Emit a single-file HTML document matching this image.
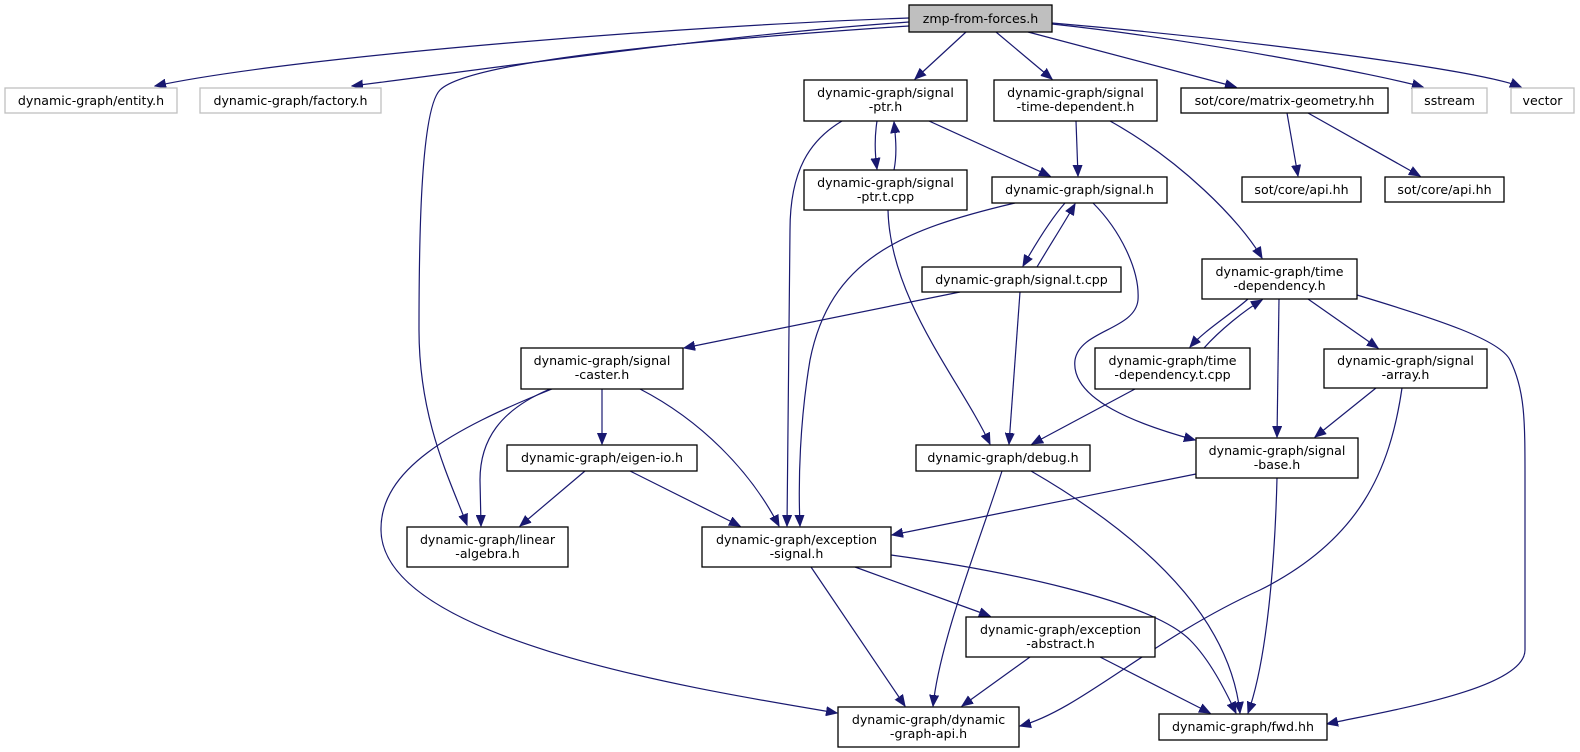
<!DOCTYPE html>
<html><head><meta charset="utf-8"><style>
html,body{margin:0;padding:0;background:#fff;}
svg{display:block;}
text{font-family:"DejaVu Sans","Liberation Sans",sans-serif;font-size:12.6px;fill:#000;text-anchor:middle;}
.e{fill:none;stroke:#191970;stroke-width:1.2;marker-end:url(#a);}
.n{fill:#fff;stroke:#000;stroke-width:1.3;}
.g{fill:#fff;stroke:#bfbfbf;stroke-width:1.3;}
</style></head><body>
<svg width="1580" height="752" viewBox="0 0 1580 752" xmlns="http://www.w3.org/2000/svg">
<defs><marker id="a" markerUnits="userSpaceOnUse" markerWidth="12" markerHeight="10" refX="11" refY="5" orient="auto"><path d="M0,0.5 L11,5 L0,9.5 z" fill="#191970" stroke="#191970"/></marker></defs>

<path class="e" d="M909,18 C700,25 300,55 155,86"/>
<path class="e" d="M909,22 C720,35 480,70 352,86"/>
<path class="e" d="M909,26 C700,40 470,60 440,90 C420,110 419,250 419,330 C419,420 450,480 467,525"/>
<path class="e" d="M966,32 L915,79"/>
<path class="e" d="M996,32 L1052,79"/>
<path class="e" d="M1028,32 L1236,87"/>
<path class="e" d="M1052,24 C1200,40 1380,75 1423,87"/>
<path class="e" d="M1052,23 C1250,40 1480,70 1521,87"/>
<path class="e" d="M877,121 C874,140 875,155 877,169"/>
<path class="e" d="M894,170 C897,155 896,140 894,122"/>
<path class="e" d="M929,121 L1050,176"/>
<path class="e" d="M842,121 C810,140 790,170 790,230 L787,526"/>
<path class="e" d="M888,210 C890,300 960,380 990,444"/>
<path class="e" d="M1076,121 L1078,176"/>
<path class="e" d="M1110,121 C1180,160 1240,220 1262,258"/>
<path class="e" d="M1287,113 L1298,176"/>
<path class="e" d="M1308,113 L1420,176"/>
<path class="e" d="M1065,203 C1050,220 1035,245 1023,266"/>
<path class="e" d="M1037,267 C1050,245 1063,225 1075,204"/>
<path class="e" d="M1015,203 C900,230 830,260 810,360 C800,420 798,480 800,526"/>
<path class="e" d="M1093,203 C1120,230 1140,270 1138,300 C1135,330 1080,330 1075,360 C1070,400 1140,425 1195,440"/>
<path class="e" d="M960,292 L684,348"/>
<path class="e" d="M1020,292 L1009,444"/>
<path class="e" d="M1248,299 C1230,315 1205,330 1190,347"/>
<path class="e" d="M1204,348 C1220,330 1245,310 1262,300"/>
<path class="e" d="M1279,299 L1277,437"/>
<path class="e" d="M1308,299 L1378,348"/>
<path class="e" d="M1357,295 C1440,320 1500,340 1510,360 C1525,390 1525,420 1525,480 L1525,650 C1525,690 1380,712 1327,724"/>
<path class="e" d="M1135,389 L1032,444"/>
<path class="e" d="M602,389 L602,444"/>
<path class="e" d="M550,389 C500,410 480,440 480,480 L481,526"/>
<path class="e" d="M640,389 C700,420 750,470 779,526"/>
<path class="e" d="M552,389 C450,430 380,470 381,530 C382,640 700,690 837,713"/>
<path class="e" d="M1376,388 L1315,437"/>
<path class="e" d="M1402,388 C1390,470 1360,540 1260,590 C1150,640 1080,710 1020,726"/>
<path class="e" d="M585,471 L520,526"/>
<path class="e" d="M630,471 L740,526"/>
<path class="e" d="M1002,471 C980,540 940,640 933,706"/>
<path class="e" d="M1031,471 C1150,540 1230,620 1240,713"/>
<path class="e" d="M1196,474 L892,535"/>
<path class="e" d="M1277,478 C1275,560 1267,660 1248,713"/>
<path class="e" d="M811,567 L905,706"/>
<path class="e" d="M855,567 L990,616"/>
<path class="e" d="M891,555 C1000,570 1150,600 1190,640 C1210,660 1225,690 1236,713"/>
<path class="e" d="M1030,657 L962,706"/>
<path class="e" d="M1100,657 L1210,713"/>

<rect x="909" y="5" width="143" height="27" fill="#bfbfbf" stroke="#000" stroke-width="1.3"/><text x="980.5" y="23">zmp-from-forces.h</text>
<rect class="g" x="5" y="88" width="172" height="25"/><text x="91" y="105">dynamic-graph/entity.h</text>
<rect class="g" x="200" y="88" width="181" height="25"/><text x="290.5" y="105">dynamic-graph/factory.h</text>
<rect class="g" x="1412" y="88" width="75" height="25"/><text x="1449.5" y="105">sstream</text>
<rect class="g" x="1511" y="88" width="63" height="25"/><text x="1542.5" y="105">vector</text>

<rect class="n" x="804" y="80" width="163" height="41"/><text x="885.5" y="97">dynamic-graph/signal</text><text x="885.5" y="111">-ptr.h</text>
<rect class="n" x="994" y="80" width="163" height="41"/><text x="1075.5" y="97">dynamic-graph/signal</text><text x="1075.5" y="111">-time-dependent.h</text>
<rect class="n" x="1181" y="88" width="207" height="25"/><text x="1284.5" y="105">sot/core/matrix-geometry.hh</text>

<rect class="n" x="804" y="170" width="163" height="40"/><text x="885.5" y="187">dynamic-graph/signal</text><text x="885.5" y="201">-ptr.t.cpp</text>
<rect class="n" x="992" y="177" width="175" height="26"/><text x="1079.5" y="194">dynamic-graph/signal.h</text>
<rect class="n" x="1242" y="177" width="119" height="25"/><text x="1301.5" y="194">sot/core/api.hh</text>
<rect class="n" x="1385" y="177" width="119" height="25"/><text x="1444.5" y="194">sot/core/api.hh</text>

<rect class="n" x="1202" y="259" width="155" height="40"/><text x="1279.5" y="276">dynamic-graph/time</text><text x="1279.5" y="290">-dependency.h</text>
<rect class="n" x="922" y="267" width="199" height="25"/><text x="1021.5" y="284">dynamic-graph/signal.t.cpp</text>

<rect class="n" x="521" y="348" width="162" height="41"/><text x="602" y="365">dynamic-graph/signal</text><text x="602" y="379">-caster.h</text>
<rect class="n" x="1095" y="348" width="155" height="41"/><text x="1172.5" y="365">dynamic-graph/time</text><text x="1172.5" y="379">-dependency.t.cpp</text>
<rect class="n" x="1324" y="349" width="163" height="39"/><text x="1405.5" y="365">dynamic-graph/signal</text><text x="1405.5" y="379">-array.h</text>

<rect class="n" x="507" y="445" width="190" height="26"/><text x="602" y="462">dynamic-graph/eigen-io.h</text>
<rect class="n" x="916" y="445" width="174" height="26"/><text x="1003" y="462">dynamic-graph/debug.h</text>
<rect class="n" x="1196" y="438" width="162" height="40"/><text x="1277" y="455">dynamic-graph/signal</text><text x="1277" y="469">-base.h</text>

<rect class="n" x="407" y="527" width="161" height="40"/><text x="487.5" y="544">dynamic-graph/linear</text><text x="487.5" y="558">-algebra.h</text>
<rect class="n" x="702" y="527" width="189" height="40"/><text x="796.5" y="544">dynamic-graph/exception</text><text x="796.5" y="558">-signal.h</text>

<rect class="n" x="966" y="617" width="189" height="40"/><text x="1060.5" y="634">dynamic-graph/exception</text><text x="1060.5" y="648">-abstract.h</text>

<rect class="n" x="838" y="707" width="181" height="40"/><text x="928.5" y="724">dynamic-graph/dynamic</text><text x="928.5" y="738">-graph-api.h</text>
<rect class="n" x="1159" y="714" width="168" height="26"/><text x="1243" y="731">dynamic-graph/fwd.hh</text>
</svg>
</body></html>
